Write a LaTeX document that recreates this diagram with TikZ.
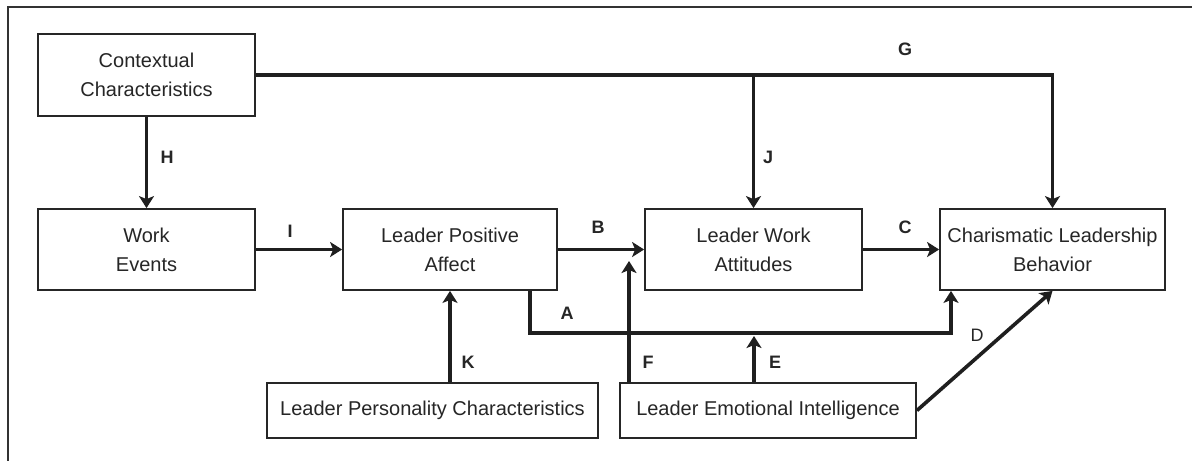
\documentclass[tikz,border=0pt]{standalone}
\usepackage{fontspec}
\setmainfont{Liberation Sans}
\usetikzlibrary{arrows.meta}
\begin{document}
\begin{tikzpicture}[x=1pt,y=-1pt,
  box/.style={draw=black!85,line width=1.8pt,inner sep=0pt,align=center,
    font=\fontsize{20}{29}\selectfont,text=black!85},
  arr/.style={line width=3.6pt,black!88,-{Stealth[length=12pt,width=15pt,inset=3pt]}},
  lab/.style={font=\fontsize{18}{20}\selectfont\bfseries,text=black!85,inner sep=0pt}]
\useasboundingbox (0,0) rectangle (1192,461);
\fill[white] (0,0) rectangle (1192,461);
\draw[line width=1.8pt,black!80] (1192,7) -- (8,7) -- (8,461);
% boxes
\node[box,minimum width=217pt,minimum height=82pt] (ctx) at (146.5,75) {Contextual\\Characteristics};
\node[box,minimum width=217pt,minimum height=81pt] (we) at (146.5,249.5) {Work\\Events};
\node[box,minimum width=214pt,minimum height=81pt] (lpa) at (450,249.5) {Leader Positive\\Affect};
\node[box,minimum width=217pt,minimum height=81pt] (law) at (753.5,249.5) {Leader Work\\Attitudes};
\node[box,minimum width=225pt,minimum height=81pt] (chb) at (1052.5,249.5) {Charismatic Leadership\\Behavior};
\node[box,minimum width=331pt,minimum height=55pt] (lpc) at (432.5,410.5) {Leader Personality Characteristics};
\node[box,minimum width=296pt,minimum height=55pt] (lei) at (768,410.5) {Leader Emotional Intelligence};
% helper coordinates
\coordinate (a1) at (530,333);
\coordinate (a2) at (951,333);
\coordinate (e1) at (754,336);
\coordinate (f1) at (629,261);
% connectors
\draw[arr] (ctx.east) -- (chb.north |- ctx.east) -- (chb.north);
\draw[arr] (law.north |- ctx.east) -- (law.north);
\draw[arr] (ctx.south) -- (we.north);
\draw[arr] (we.east) -- (lpa.west);
\draw[arr] (lpa.east) -- (law.west);
\draw[arr] (law.east) -- (chb.west);
\draw[arr] (lpa.south -| a1) -- (a1) -- (a2) -- (chb.south -| a2);
\draw[arr] (lei.north -| e1) -- (e1);
\draw[arr] (lei.north -| f1) -- (f1);
\draw[arr] (lpc.north -| lpa.south) -- (lpa.south);
\draw[arr] (lei.east) -- (chb.south);
% labels
\node[lab] (lG) at (905,49) {G};
\node[lab] (lH) at (167,157) {H};
\node[lab] (lJ) at (768,157) {J};
\node[lab] (lI) at (290,231) {I};
\node[lab] (lB) at (598,227) {B};
\node[lab] (lC) at (905,227) {C};
\node[lab] (lA) at (567,313) {A};
\node[lab] (lK) at (468,362) {K};
\node[lab] (lF) at (648,362) {F};
\node[lab] (lE) at (775,362) {E};
\node[lab,font=\fontsize{18}{20}\selectfont] (lD) at (977,335) {D};
\end{tikzpicture}
\end{document}
